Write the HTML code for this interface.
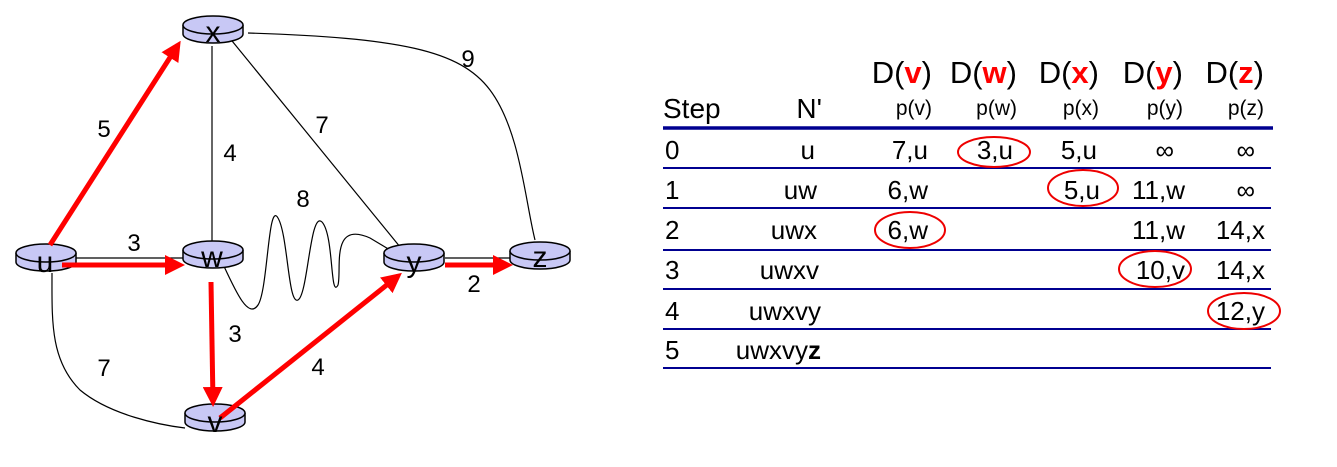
<!DOCTYPE html>
<html><head><meta charset="utf-8"><style>
html,body{margin:0;padding:0;background:#fff;}
svg{display:block;font-family:"Liberation Sans",Arial,sans-serif;}
</style></head><body>
<svg width="1337" height="467" viewBox="0 0 1337 467" xmlns="http://www.w3.org/2000/svg">
<defs>
<marker id="ah" markerWidth="4" markerHeight="4" refX="3" refY="2" orient="auto" markerUnits="strokeWidth">
<path d="M0,0 L4,2 L0,4 z" fill="#f00"/></marker>
<g id="node">
<path d="M-30,0 L-30,9 A30,9 0 0 0 30,9 L30,0" fill="#c8c8f5" stroke="#000" stroke-width="1.5"/>
<ellipse cx="0" cy="0" rx="30" ry="9" fill="#c8c8f5" stroke="#000" stroke-width="1.5"/>
</g>
</defs>
<!-- thin edges -->
<g fill="none" stroke="#000" stroke-width="1.2">
<line x1="212" y1="46" x2="212" y2="247"/>
<line x1="228" y1="36" x2="405" y2="253"/>
<path d="M248,33 C400,38 460,50 490,90 C520,130 525,200 535,240"/>
<path d="M52,273 C52,320 50,360 80,390 C110,415 160,425 185,428"/>
<path d="M222,262 C235,290 248,320 258,305 C268,290 268,200 278,218 C288,235 288,305 298,300 C308,295 310,210 322,222 C334,235 330,300 338,285 C342,270 330,220 370,238 L390,250"/>
<line x1="62" y1="258" x2="190" y2="258"/>
<line x1="445" y1="258" x2="515" y2="258"/>
</g>
<!-- nodes -->
<use href="#node" x="213" y="25"/>
<use href="#node" x="46" y="253"/>
<use href="#node" x="213" y="250"/>
<use href="#node" x="414" y="253"/>
<use href="#node" x="540" y="251"/>
<use href="#node" x="215" y="413"/>
<!-- red arrows -->
<g stroke="#f00" stroke-width="5" fill="none" marker-end="url(#ah)">
<line x1="50" y1="245" x2="178" y2="45"/>
<line x1="62" y1="265" x2="180" y2="265"/>
<line x1="211" y1="282" x2="213" y2="402"/>
<line x1="220" y1="418" x2="398" y2="276"/>
<line x1="445" y1="265" x2="508" y2="265"/>
</g>
<!-- node labels -->
<g font-size="30" text-anchor="middle" fill="#000">
<text x="213" y="42">x</text>
<text x="45" y="272">u</text>
<text x="212" y="267">w</text>
<text x="414" y="272">y</text>
<text x="540" y="267">z</text>
<text x="215" y="432">v</text>
</g>
<!-- edge labels -->
<g font-size="24" text-anchor="middle" fill="#000">
<text x="104" y="137">5</text>
<text x="134" y="251">3</text>
<text x="230" y="161">4</text>
<text x="322" y="133">7</text>
<text x="303" y="207">8</text>
<text x="468" y="67">9</text>
<text x="474" y="292">2</text>
<text x="235" y="342">3</text>
<text x="104" y="376">7</text>
<text x="318" y="375">4</text>
</g>
<!-- table -->
<g font-size="31" text-anchor="end" fill="#000">
<text x="932" y="83">D(<tspan fill="#f00" font-weight="bold">v</tspan>)</text>
<text x="1017" y="83">D(<tspan fill="#f00" font-weight="bold">w</tspan>)</text>
<text x="1099" y="83">D(<tspan fill="#f00" font-weight="bold">x</tspan>)</text>
<text x="1183" y="83">D(<tspan fill="#f00" font-weight="bold">y</tspan>)</text>
<text x="1264" y="83">D(<tspan fill="#f00" font-weight="bold">z</tspan>)</text>
</g>
<g font-size="21" text-anchor="end" fill="#000">
<text x="932" y="115">p(v)</text>
<text x="1017" y="115">p(w)</text>
<text x="1099" y="115">p(x)</text>
<text x="1183" y="115">p(y)</text>
<text x="1264" y="115">p(z)</text>
</g>
<text x="663" y="118" font-size="28" fill="#000">Step</text>
<text x="822" y="118" font-size="28" text-anchor="end" fill="#000">N'</text>
<line x1="663" y1="128" x2="1273" y2="128" stroke="#000090" stroke-width="3.5"/>
<g stroke="#000090" stroke-width="2">
<line x1="663" y1="168" x2="1271" y2="168"/>
<line x1="663" y1="208" x2="1271" y2="208"/>
<line x1="663" y1="250" x2="1271" y2="250"/>
<line x1="663" y1="289" x2="1271" y2="289"/>
<line x1="663" y1="329" x2="1271" y2="329"/>
<line x1="663" y1="368" x2="1271" y2="368"/>
</g>
<g font-size="26" fill="#000">
<text x="665" y="159">0</text>
<text x="665" y="199">1</text>
<text x="665" y="239">2</text>
<text x="665" y="279">3</text>
<text x="665" y="320">4</text>
<text x="665" y="359">5</text>
</g>
<g font-size="26" text-anchor="end" fill="#000">
<text x="815" y="159">u</text>
<text x="817" y="199">uw</text>
<text x="817" y="239">uwx</text>
<text x="819" y="279">uwxv</text>
<text x="821" y="320">uwxvy</text>
<text x="821" y="359">uwxvy<tspan font-weight="bold">z</tspan></text>
<text x="928" y="159">7,u</text>
<text x="1013" y="159">3,u</text>
<text x="1097" y="159">5,u</text>
<text x="1174" y="159">∞</text>
<text x="1255" y="159">∞</text>
<text x="928" y="199">6,w</text>
<text x="1100" y="199">5,u</text>
<text x="1185" y="199">11,w</text>
<text x="1255" y="199">∞</text>
<text x="928" y="239">6,w</text>
<text x="1185" y="239">11,w</text>
<text x="1265" y="239">14,x</text>
<text x="1185" y="279">10,v</text>
<text x="1265" y="279">14,x</text>
<text x="1265" y="320">12,y</text>
</g>
<g fill="none" stroke="#e00" stroke-width="2">
<ellipse cx="994" cy="152" rx="36" ry="15"/>
<ellipse cx="1083" cy="188" rx="35" ry="18"/>
<ellipse cx="910" cy="230" rx="35" ry="18"/>
<ellipse cx="1155" cy="269" rx="36" ry="18"/>
<ellipse cx="1244" cy="311" rx="36" ry="18"/>
</g>
</svg>
</body></html>
